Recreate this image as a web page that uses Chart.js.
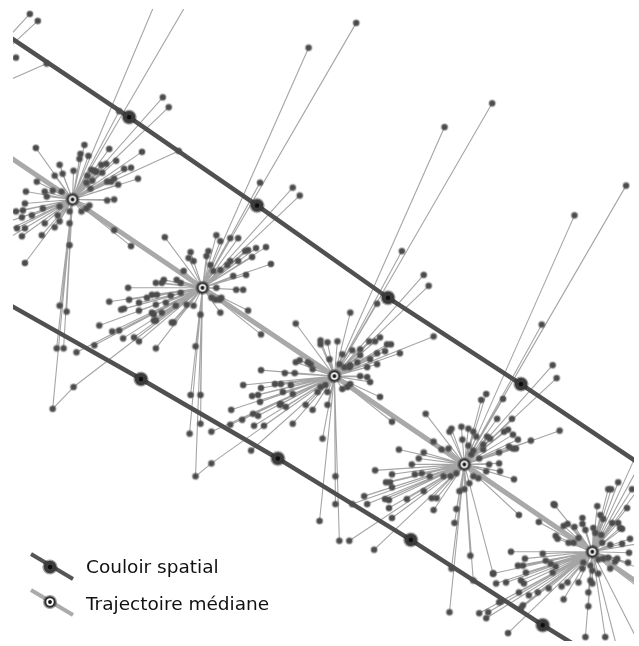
<!DOCTYPE html>
<html>
<head>
<meta charset="utf-8">
<script src="https://cdn.jsdelivr.net/npm/chart.js@4"></script>
<style>
  html, body { margin: 0; padding: 0; background: #fff; }
  #wrap { width: 639px; height: 646px; }
</style>
</head>
<body>
<div id="wrap"><canvas id="couloirChart" width="639" height="646"></canvas></div>
<script>
// median trajectory (one point per time step; first and last lie outside the frame)
const medianX = [-60, 73, 204, 337, 468, 597, 728];
const medianY = [111, 201, 290, 379, 468, 556, 645];

// spatial corridor, upper and lower edges
const corridorTopX = [-1, 130, 259, 391, 525, 656];
const corridorTopY = [30, 118, 207, 300, 387, 475];
const corridorBottomX = [4, 142, 280, 414, 547, 680];
const corridorBottomY = [304, 382, 462, 544, 630, 712];

// individual positions around each median point
const pts0 = [[30,14],[38,21],[16,58],[47,64]];
const pts1 = [[164,98],[170,108],[143,153],[120,112],[180,152],[161,-8],[195,-8],
  [117,162],[132,169],[125,170],[139,180],[115,180],[119,186],[112,183],[108,202],[115,201],
  [97,173],[103,174],[92,171],[85,146],[81,155],[89,157],[80,160],[88,177],[87,184],[93,182],
  [90,207],[87,210],[82,213],[91,190],[110,150],[107,165],[102,166],[95,172],[108,183],
  [36,149],[60,166],[63,175],[55,177],[74,172],[37,183],[26,193],[45,193],[53,192],[62,193],[47,198],
  [25,205],[23,212],[32,217],[43,210],[58,217],[60,223],[55,229],[45,225],[25,230],[42,237],[70,213],[60,208],[16,213],[22,219],[17,230],[22,238],[25,265],
  [-5,218],[-5,228],[-5,238],[-5,248],
  [70,225],[70,247],[115,232],[132,248],[60,308],[67,314],[57,351],[64,351],[53,412]];
const pts2 = [[359,23],[311,48],[262,184],[295,189],[302,197],
  [166,239],[192,254],[190,260],[195,263],[210,253],[208,258],[222,243],[218,237],[232,240],[240,240],[250,252],[258,250],[247,253],[232,263],[240,263],[254,259],[268,249],[273,266],[222,272],[215,273],[235,278],[248,277],[212,267],[229,267],
  [185,273],[178,282],[182,285],[165,282],[157,285],[163,285],[153,297],[158,297],[172,298],[182,295],
  [157,307],[167,305],[177,308],[155,317],[163,315],[155,323],[175,325],[188,307],[195,308],[202,317],
  [129,290],[110,304],[130,302],[140,305],[148,300],[122,312],[125,311],[140,313],[153,315],
  [100,328],[113,334],[120,333],[124,341],[135,340],[140,344],[157,323],[157,351],[173,325],[77,355],[95,348],[74,390],
  [213,300],[217,302],[223,300],[238,292],[245,292],[250,313],[263,337],[218,290],[221,302],[222,315],
  [197,349],[192,398],[202,398],[202,427],[191,437],[197,480]];
const pts3 = [[448,128],[496,104],[405,253],[427,277],[432,288],[380,306],[353,315],[437,339],
  [403,356],[394,347],[388,354],[380,356],[383,340],[378,344],[372,344],[373,362],[363,358],[355,353],[360,365],[353,368],
  [370,380],[363,379],[373,385],[383,400],[395,425],[363,352],[390,347],[370,370],[380,367],
  [345,357],[342,367],[347,370],[352,370],[340,344],[330,345],[323,343],[323,347],[332,362],[298,326],[353,387],[345,392],[350,390],
  [313,367],[310,365],[298,365],[315,372],[287,376],[297,376],[283,387],[293,388],[285,395],[295,397],[320,395],[328,388],[323,390],[330,395],
  [282,408],[288,410],[308,408],[315,413],[295,427],[330,408],
  [245,388],[263,373],[302,363],[263,391],[254,399],[260,398],[262,405],[233,413],[255,417],[260,419],[244,423],[256,429],[266,429],[213,435],[232,428],[253,454],[213,467],[283,407],[277,387],
  [325,442],[338,480],[338,508],[342,545],[322,525]];
const pts4 = [[579,217],[631,187],[546,327],[557,368],[561,381],[490,397],[485,403],[507,402],[501,422],[516,422],[429,417],
  [455,432],[465,430],[472,432],[477,435],[453,435],[466,443],[480,440],[491,440],[494,442],[508,435],[512,433],[517,438],[522,443],[535,444],[564,434],
  [437,445],[445,453],[452,452],[472,449],[477,454],[487,448],[487,453],[503,456],[513,450],[517,452],[520,452],
  [402,453],[427,456],[422,462],[415,468],[418,478],[425,477],[433,480],[447,480],[454,480],[460,477],
  [378,474],[395,478],[389,486],[393,486],[395,491],[388,503],[392,504],[410,503],[367,500],[370,508],[392,512],[395,522],[437,514],[440,502],[435,502],[427,495],[352,545],[377,554],[355,508],
  [475,458],[483,462],[493,468],[503,467],[504,475],[490,475],[477,480],[482,482],[518,483],[473,487],[463,495],[468,493],[523,519],
  [458,527],[474,560],[455,573],[453,617],[497,578],[477,585],[460,513]];
const pts5 = [[660,417],[660,440],[660,470],
  [559,509],[572,528],[579,531],[587,522],[587,528],[590,534],[583,542],[578,547],[573,547],[560,540],[562,543],[543,526],[568,530],[558,508],
  [602,510],[605,519],[608,523],[617,527],[623,527],[625,532],[627,533],[616,493],[623,486],[632,512],[637,493],[613,493],
  [600,537],[598,532],[606,539],[607,547],[615,549],[635,543],[627,548],[613,562],[608,563],[603,564],[634,557],[633,567],[620,566],[615,573],[603,578],[622,563],
  [515,556],[547,558],[529,563],[522,570],[527,570],[497,578],[550,565],[560,571],[555,568],[530,577],[510,587],[500,588],[525,585],[528,588],[523,597],[557,577],[566,591],[572,587],[568,604],[503,607],[527,610],[492,617],[483,618],[490,623],[512,638],[533,600],[542,597],[553,593],[583,587],[593,597],[505,606],[525,613],
  [588,567],[587,573],[595,570],[597,575],[595,585],[597,588],[593,611],[590,642],[610,642],
  [660,545],[660,578],[660,605],[650,660],[625,665]];
const extraLinks = [[[53,412],[74,390]], [[197,480],[213,467]]];

const legendLabels = ['Couloir spatial', 'Trajectoire médiane'];

const clusters = [pts0, pts1, pts2, pts3, pts4, pts5];

// marker images
function markerImg(kind) {
    const c = document.createElement('canvas');
    c.width = 18; c.height = 18;
    const g = c.getContext('2d');
    const disc = (r, col) => { g.beginPath(); g.arc(9, 9, r, 0, Math.PI * 2); g.fillStyle = col; g.fill(); };
    if (kind === 'couloir') {
        disc(7.6, 'rgba(40,40,40,0.45)');
        disc(6.2, '#3b3b3b');
        disc(2.2, '#0d0d0d');
    } else if (kind === 'median') {
        disc(7.0, 'rgba(40,40,40,0.45)');
        disc(5.7, '#2e2e2e');
        disc(3.7, '#fff');
        disc(1.9, '#111');
    } else {
        disc(3.7, 'rgba(80,80,80,0.45)');
        disc(2.8, '#4c4c4c');
    }
    return c;
}
const couloirMarker = markerImg('couloir');
const medianMarker = markerImg('median');
const dotMarker = markerImg('dot');

const xy = (xs, ys) => xs.map((x, i) => ({x: x, y: ys[i]}));

const rays = [];
const dots = [];
clusters.forEach((pts, k) => {
    const c = {x: medianX[k], y: medianY[k]};
    pts.forEach(p => {
        rays.push(c, {x: p[0], y: p[1]}, {x: p[0], y: null});
        dots.push({x: p[0], y: p[1]});
    });
});
extraLinks.forEach(([a, b]) => {
    rays.push({x: a[0], y: a[1]}, {x: b[0], y: b[1]}, {x: b[0], y: null});
});

const legendPlugin = {
    id: 'cornerLegend',
    afterDraw(chart) {
        const ctx = chart.ctx;
        ctx.save();
        ctx.lineCap = 'butt';
        ctx.lineWidth = 4;
        ctx.strokeStyle = '#555';
        ctx.beginPath(); ctx.moveTo(31, 554); ctx.lineTo(73, 579); ctx.stroke();
        ctx.drawImage(couloirMarker, 50 - 9, 567 - 9);
        ctx.strokeStyle = '#ababab';
        ctx.beginPath(); ctx.moveTo(31, 590); ctx.lineTo(73, 615); ctx.stroke();
        ctx.drawImage(medianMarker, 50 - 9, 602 - 9);
        ctx.fillStyle = '#111';
        ctx.font = '18.5px "DejaVu Sans"';
        ctx.textBaseline = 'alphabetic';
        ctx.fillText(legendLabels[0], 86, 573);
        ctx.fillText(legendLabels[1], 86, 610);
        ctx.restore();
    }
};

let chart;
function initializeChart() {
    const ctx = document.getElementById('couloirChart').getContext('2d');
    chart = new Chart(ctx, {
        type: 'scatter',
        data: {
            datasets: [
                {
                    label: 'couloir markers',
                    data: xy(corridorTopX, corridorTopY).concat(xy(corridorBottomX, corridorBottomY)),
                    pointStyle: couloirMarker,
                    showLine: false,
                    clip: 0,
                },
                {
                    label: 'median markers',
                    data: xy(medianX, medianY),
                    pointStyle: medianMarker,
                    showLine: false,
                    clip: 0,
                },
                {
                    label: 'positions',
                    data: dots,
                    pointStyle: dotMarker,
                    showLine: false,
                    clip: 0,
                },
                {
                    label: 'Couloir spatial (haut)',
                    data: xy(corridorTopX, corridorTopY),
                    showLine: true,
                    borderColor: '#505050',
                    borderWidth: 4.5,
                    pointRadius: 0,
                    clip: 0,
                },
                {
                    label: 'Couloir spatial (bas)',
                    data: xy(corridorBottomX, corridorBottomY),
                    showLine: true,
                    borderColor: '#505050',
                    borderWidth: 4.5,
                    pointRadius: 0,
                    clip: 0,
                },
                {
                    label: 'Trajectoire médiane',
                    data: xy(medianX, medianY),
                    showLine: true,
                    borderColor: '#a9a9a9',
                    borderWidth: 5,
                    pointRadius: 0,
                    clip: 0,
                },
                {
                    label: 'liens',
                    data: rays,
                    showLine: true,
                    spanGaps: false,
                    borderColor: 'rgba(110,110,110,0.62)',
                    borderWidth: 1.1,
                    pointRadius: 0,
                    clip: 0,
                },
            ]
        },
        options: {
            responsive: false,
            animation: false,
            events: [],
            layout: { padding: { left: 13, top: 9, right: 0, bottom: 0 } },
            plugins: { legend: { display: false }, tooltip: { enabled: false } },
            scales: {
                x: { type: 'linear', min: 13, max: 639, display: false },
                y: { type: 'linear', min: 9, max: 646, reverse: true, display: false }
            }
        },
        plugins: [legendPlugin]
    });
}

window.onload = initializeChart;
</script>
</body>
</html>
